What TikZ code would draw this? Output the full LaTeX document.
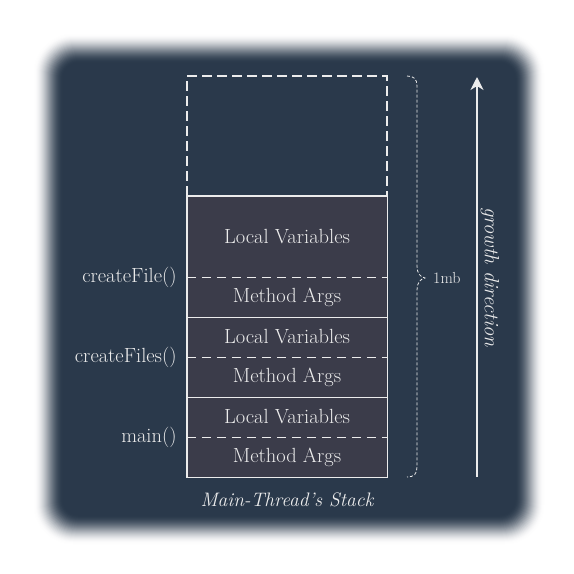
\documentclass[tikz,border=0pt]{standalone}
\usetikzlibrary{arrows.meta}
\definecolor{bg}{HTML}{2A394B}
\definecolor{cellbg}{HTML}{3B3C4A}
\definecolor{ink}{HTML}{ECECEC}
\tikzset{
  cell/.style={fill=cellbg, draw=none, minimum width=200pt, inner sep=0pt, text=ink, font=\fontsize{20.5}{24}\selectfont},
  frameline/.style={draw=ink, line width=1.4pt},
  sepline/.style={draw=ink, line width=1.4pt, dash pattern=on 9pt off 6pt},
  freebox/.style={draw=ink, line width=1.4pt, dash pattern=on 10pt off 5pt},
  bracestyle/.style={draw=ink, line width=0.8pt, dash pattern=on 3pt off 2pt},
  lbl/.style={text=ink, font=\fontsize{20.5}{24}\selectfont, inner sep=0pt},
  growarrow/.style={draw=ink, line width=1.4pt, -{Stealth[length=13pt,width=13pt,inset=4pt]}}
}
\begin{document}
\begin{tikzpicture}[x=1pt,y=-1pt]
\useasboundingbox (0,0) rectangle (574,574);
\fill[white] (0,0) rectangle (574,574);
% blurred background: layers from white to bg
\foreach \k in {0,...,30}{
  \pgfmathsetmacro{\p}{100*(0.5-0.5*cos(180*\k/30))}
  \pgfmathsetmacro{\r}{40-0.8*\k}
  \fill[bg!\p!white, rounded corners=\r pt] (33+\k,33+\k) rectangle (545-\k,545-\k);
}

% free (unused) stack area
\node[freebox, minimum width=200pt, minimum height=120pt, inner sep=0pt] (free) at (287,136) {};

% frames cells
\node[cell, minimum height=81pt] (lv1) at (287,236.5) {Local Variables};
\node[cell, minimum height=40pt] (ma1) at (287,297) {Method Args};
\node[cell, minimum height=40pt] (lv2) at (287,337) {Local Variables};
\node[cell, minimum height=40pt] (ma2) at (287,377) {Method Args};
\node[cell, minimum height=40pt] (lv3) at (287,417) {Local Variables};
\node[cell, minimum height=40pt] (ma3) at (287,457) {Method Args};

% separators
\draw[sepline] (lv1.south west) -- (lv1.south east);
\draw[sepline] (lv2.south west) -- (lv2.south east);
\draw[sepline] (lv3.south west) -- (lv3.south east);
\draw[frameline] (ma1.south west) -- (ma1.south east);
\draw[frameline] (ma2.south west) -- (ma2.south east);
\draw[frameline] (lv1.north west) rectangle (ma3.south east);

% frame labels
\node[lbl, anchor=east] (l1) at ([xshift=-10pt]lv1.south west) {createFile()};
\node[lbl, anchor=east] (l2) at ([xshift=-10pt]lv2.south west) {createFiles()};
\node[lbl, anchor=east] (l3) at ([xshift=-10pt]lv3.south west) {main()};

% caption
\node[lbl, font=\fontsize{19.5}{23}\selectfont\itshape] (cap) at (287,500) {Main-Thread’s Stack};

% brace
\coordinate (bt) at (407,76);
\coordinate (bb) at (407,477);
\coordinate (btip) at (425,278);
\draw[bracestyle] (bt) .. controls (414,76) and (417,79) .. (417,86) -- (417,266)
  .. controls (417,273) and (420,277) .. (btip)
  .. controls (420,279) and (417,283) .. (417,290) -- (417,467)
  .. controls (417,474) and (414,477) .. (bb);
\node[lbl, anchor=west, font=\fontsize{16}{19}\selectfont] (mb) at (433,278) {1mb};

% growth arrow
\coordinate (ab) at (477,477);
\coordinate (at) at (477,77);
\draw[growarrow] (ab) -- (at);
\node[lbl, rotate=-90, font=\fontsize{20.5}{24}\selectfont\itshape] (gd) at (490,277) {growth direction};
\end{tikzpicture}
\end{document}
